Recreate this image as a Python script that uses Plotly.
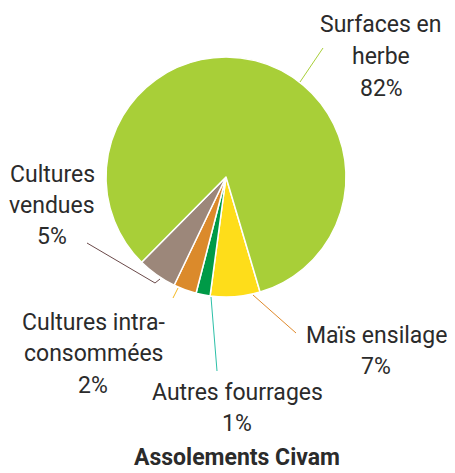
import plotly.graph_objects as go

W, H = 455, 473
OFF = 8  # page body margin offset

# Data (clockwise order starting from the Maïs slice)
categories = ["Maïs ensilage", "Autres fourrages", "Cultures intra-consommées",
              "Cultures vendues", "Surfaces en herbe"]
shares = [6.7, 1.9, 3.1, 5.3, 83.0]
pct_labels = ["7%", "1%", "2%", "5%", "82%"]
colors = ["#fedd1a", "#009a47", "#db8a2b", "#9c877a", "#a8cf38"]

# label lines as shown
label_lines = [
    ["Maïs ensilage"],
    ["Autres fourrages"],
    ["Cultures intra-", "consommées"],
    ["Cultures", "vendues"],
    ["Surfaces en", "herbe"],
]

# Layout helpers (pixel -> paper)
def px(x):
    return (x - OFF) / W

def py(y):
    return 1 - (y - OFF) / H

CX, CY, R = 226, 177, 120

fig = go.Figure(go.Pie(
    labels=categories,
    values=shares,
    sort=False,
    direction="clockwise",
    rotation=163.5,
    marker=dict(colors=colors, line=dict(color="white", width=1.5)),
    textinfo="none",
    hoverinfo="label+percent",
    showlegend=False,
    domain=dict(x=[px(CX - R), px(CX + R)], y=[py(CY + R), py(CY - R)]),
))

# label block: center x px, first baseline y px
label_pos = [(376, 343), (237, 400), (93, 330), (52, 182), (381, 33)]
LINE = 31.5
FS = 23
FONT = "Roboto, 'Noto Sans', sans-serif"

annotations = []
for lines, pct, (lx, by) in zip(label_lines, pct_labels, label_pos):
    for i, t in enumerate(lines + [pct]):
        annotations.append(dict(
            text=t, x=px(lx), y=py(by + i * LINE - 8), xref="paper", yref="paper",
            xanchor="center", yanchor="middle", showarrow=False,
            font=dict(family=FONT, size=FS, color="#2b2b2b"),
        ))

annotations.append(dict(
    text="<b>Assolements Civam</b>", x=px(237), y=py(457), xref="paper", yref="paper",
    xanchor="center", yanchor="middle", showarrow=False, borderpad=0,
    font=dict(family=FONT, size=23, color="#2b2b2b"),
))

# leader lines (pixel paths)
leaders = [
    ([(253, 295), (296, 333)], "#e08a2c"),
    ([(211, 297), (217, 371)], "#2cc0a8"),
    ([(178, 288), (173, 298)], "#f5b820"),
    ([(160, 279), (155, 283), (87, 243)], "#6b4a4a"),
    ([(300, 82), (323, 48)], "#a8cf38"),
]
shapes = []
for pts, col in leaders:
    path = "M " + " L ".join(f"{px(x)},{py(y)}" for x, y in pts)
    shapes.append(dict(type="path", path=path, xref="paper", yref="paper",
                       line=dict(color=col, width=1)))

fig.update_layout(
    width=W, height=H,
    margin=dict(l=0, r=0, t=0, b=0),
    paper_bgcolor="white", plot_bgcolor="white",
    annotations=annotations, shapes=shapes,
)

fig.write_html("out.html")
